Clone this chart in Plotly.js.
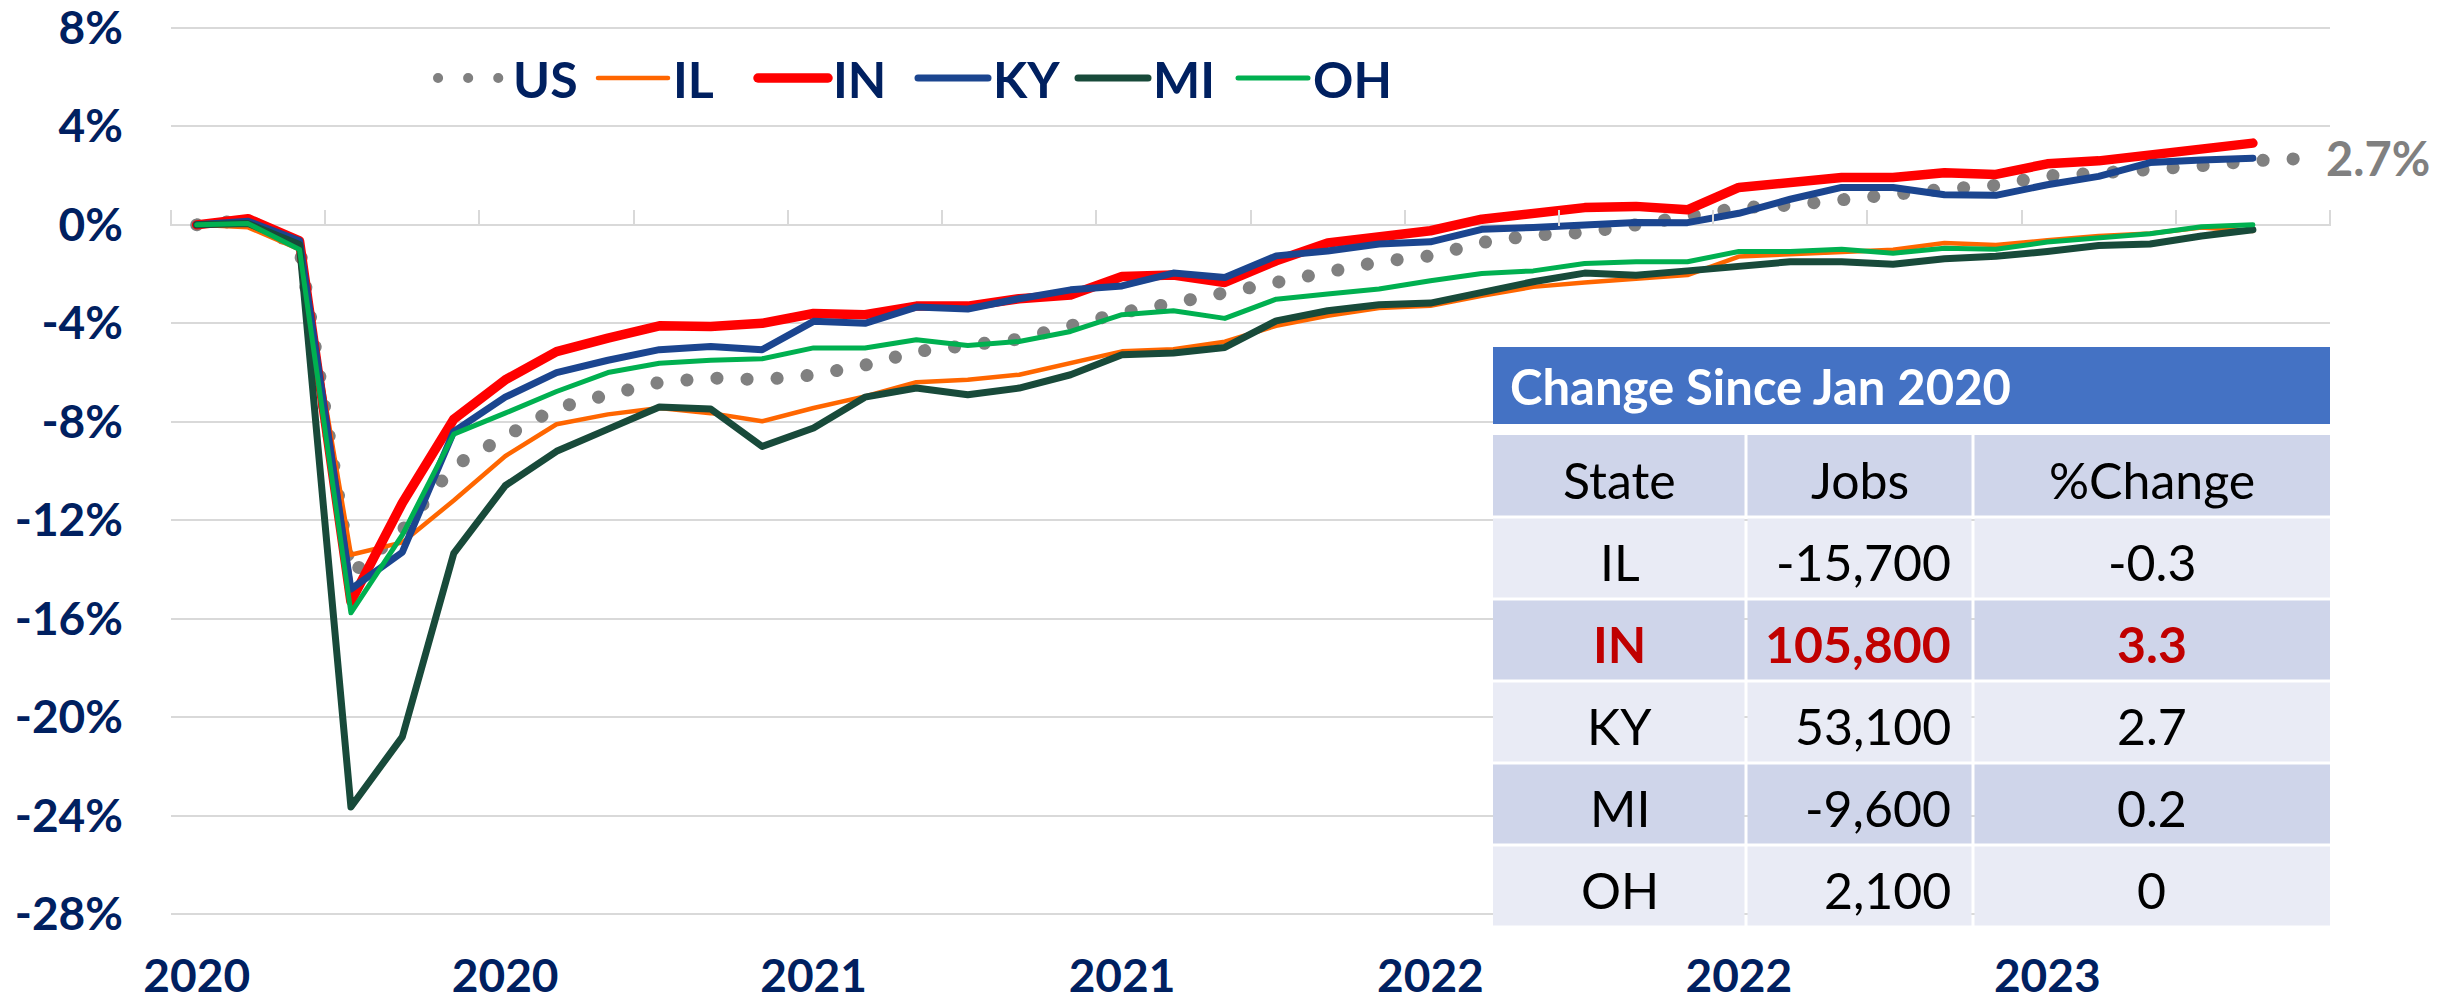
<!DOCTYPE html>
<html>
<head>
<meta charset="utf-8">
<script src="https://cdn.plot.ly/plotly-3.0.1.min.js"></script>
<style>
  html, body { margin: 0; padding: 0; background: #ffffff; }
  #chart { width: 2461px; height: 1004px; }
  path.js-line { stroke-linecap: round; stroke-linejoin: round; }
</style>
</head>
<body>
<div id="chart"></div>
<script>
// ---------- data ----------
const months = [
  'Jan 2020','Feb 2020','Mar 2020','Apr 2020','May 2020','Jun 2020','Jul 2020','Aug 2020','Sep 2020','Oct 2020','Nov 2020','Dec 2020',
  'Jan 2021','Feb 2021','Mar 2021','Apr 2021','May 2021','Jun 2021','Jul 2021','Aug 2021','Sep 2021','Oct 2021','Nov 2021','Dec 2021',
  'Jan 2022','Feb 2022','Mar 2022','Apr 2022','May 2022','Jun 2022','Jul 2022','Aug 2022','Sep 2022','Oct 2022','Nov 2022','Dec 2022',
  'Jan 2023','Feb 2023','Mar 2023','Apr 2023','May 2023','Jun 2023'
];
const xTickVals = ['Jan 2020','Jul 2020','Jan 2021','Jul 2021','Jan 2022','Jul 2022','Jan 2023'];
const xTickText = ['2020','2020','2021','2021','2022','2022','2023'];
const yTickVals = [8, 4, 0, -4, -8, -12, -16, -20, -24, -28];
const yTickText = ['8%','4%','0%','-4%','-8%','-12%','-16%','-20%','-24%','-28%'];

// % change in jobs since Jan 2020
const US = [0, 0.2, -0.9, -14.2, -12.4, -9.8, -8.6, -7.44, -6.9, -6.4, -6.22, -6.29,
  -6.1, -5.7, -5.15, -4.87, -4.64, -4.1, -3.56, -3.18, -2.77, -2.34, -1.85, -1.5,
  -1.26, -0.72, -0.42, -0.31, 0.0, 0.3, 0.69, 0.8, 1.03, 1.31, 1.45, 1.61,
  1.99, 2.1, 2.22, 2.4, 2.6, 2.7];
const IL = [0, -0.1, -1.0, -13.4, -12.9, -11.2, -9.4, -8.1, -7.7, -7.44, -7.65, -7.98,
  -7.44, -6.97, -6.39, -6.29, -6.09, -5.6, -5.14, -5.05, -4.75, -4.1, -3.69, -3.38,
  -3.29, -2.88, -2.52, -2.34, -2.17, -2.04, -1.29, -1.19, -1.1, -1.01, -0.74, -0.82,
  -0.63, -0.45, -0.35, -0.11, -0.25];
const IN = [0, 0.25, -0.65, -15.3, -11.3, -7.9, -6.3, -5.15, -4.6, -4.1, -4.13, -4.0,
  -3.6, -3.65, -3.3, -3.3, -3.0, -2.85, -2.1, -2.04, -2.34, -1.46, -0.74, -0.47,
  -0.24, 0.23, 0.46, 0.7, 0.75, 0.61, 1.52, 1.72, 1.92, 1.92, 2.12, 2.05,
  2.48, 2.6, 2.83, 3.07, 3.32];
const KY = [0, 0.15, -0.65, -14.8, -13.3, -8.4, -7.0, -6.0, -5.5, -5.07, -4.94, -5.07,
  -3.92, -4.0, -3.34, -3.42, -3.0, -2.64, -2.48, -1.96, -2.14, -1.26, -1.06, -0.78,
  -0.69, -0.18, -0.11, -0.01, 0.1, 0.09, 0.47, 1.04, 1.52, 1.52, 1.22, 1.2,
  1.63, 1.97, 2.53, 2.63, 2.71];
const MI = [0, 0.05, -0.8, -23.65, -20.8, -13.35, -10.6, -9.2, -8.3, -7.4, -7.48, -9.0,
  -8.25, -7.0, -6.63, -6.9, -6.63, -6.09, -5.28, -5.21, -4.98, -3.9, -3.49, -3.25,
  -3.18, -2.72, -2.31, -1.96, -2.05, -1.87, -1.66, -1.5, -1.5, -1.6, -1.38, -1.28,
  -1.08, -0.84, -0.78, -0.45, -0.2];
const OH = [0, 0.05, -1.0, -15.76, -12.6, -8.5, -7.65, -6.77, -6.0, -5.62, -5.5, -5.44,
  -5.0, -5.0, -4.67, -4.9, -4.74, -4.33, -3.65, -3.49, -3.8, -3.02, -2.81, -2.61,
  -2.27, -1.98, -1.87, -1.57, -1.5, -1.5, -1.08, -1.08, -0.99, -1.15, -0.95, -0.99,
  -0.7, -0.51, -0.36, -0.08, 0.0];

// table
const tableTitle = 'Change Since Jan 2020';
const tableHeader = ['State', 'Jobs', '%Change'];
const tStates = ['IL', 'IN', 'KY', 'MI', 'OH'];
const tJobs = ['-15,700', '105,800', '53,100', '-9,600', '2,100'];
const tPct = ['-0.3', '3.3', '2.7', '0.2', '0'];
const highlightState = 'IN';

// ---------- styling ----------
const FONT = 'Lato, "Open Sans", sans-serif';
const NAVY = '#002060';
const GRID = '#D9D9D9';

// geometry (px)
const W = 2461, H = 1004;
const M = {l: 171, r: 131, t: 23, b: 70};
const plotBottomPx = 919;
const PW = W - M.l - M.r, PH = H - M.t - M.b;
const px2x = x => (x - M.l) / PW;
const px2y = y => (H - M.b - y) / PH;

const series = [
  {name: 'US', y: US, color: '#808080', width: 13, dash: '0.1px,30px'},
  {name: 'IL', y: IL, color: '#FF6600', width: 4.5, dash: 'solid'},
  {name: 'IN', y: IN, color: '#FF0000', width: 9.5, dash: 'solid'},
  {name: 'KY', y: KY, color: '#1B458F', width: 7, dash: 'solid'},
  {name: 'MI', y: MI, color: '#184A3A', width: 7, dash: 'solid'},
  {name: 'OH', y: OH, color: '#00B050', width: 5, dash: 'solid'}
];

const traces = series.map(s => ({
  type: 'scatter', mode: 'lines', name: s.name,
  x: months.slice(0, s.y.length), y: s.y,
  line: {color: s.color, width: s.width, dash: s.dash},
  hoverinfo: 'skip'
}));
// empty trace so that the tick-mark axis on the zero line is drawn
traces.push({type: 'scatter', mode: 'lines', x: [], y: [], xaxis: 'x2', yaxis: 'y',
  showlegend: false, hoverinfo: 'skip'});

// ---------- table (cells drawn as shapes + annotations from the arrays) ----------
const colEdges = [1493, 1746, 1973, 2330];
const rowTop0 = 435, rowPitch = 82, cellGap = 3;
const titleBar = {top: 347, bottom: 424};
const tableRows = [tableHeader].concat(tStates.map((s, i) => [s, tJobs[i], tPct[i]]));
const colAlign = ['center', 'right', 'center'];
const jobsRightPad = 20;

const shapes = [{
  type: 'rect', xref: 'paper', yref: 'paper',
  x0: px2x(colEdges[0]), x1: px2x(colEdges[3]), y0: px2y(titleBar.bottom), y1: px2y(titleBar.top),
  fillcolor: '#4472C4', line: {width: 0}
}];
const annotations = [{
  xref: 'paper', yref: 'paper', x: px2x(1508), y: px2y((titleBar.top + titleBar.bottom) / 2),
  xanchor: 'left', yanchor: 'middle', showarrow: false,
  text: '<b>' + tableTitle + '</b>',
  font: {family: FONT, size: 49, color: '#ffffff'}
}];

tableRows.forEach((row, r) => {
  const top = rowTop0 + r * rowPitch;
  const fill = (r % 2 === 0) ? '#CFD5EA' : '#E9EBF5';
  const hl = row[0] === highlightState;
  row.forEach((val, c) => {
    const x0 = colEdges[c] + (c > 0 ? cellGap / 2 : 0);
    const x1 = colEdges[c + 1] - (c < 2 ? cellGap / 2 : 0);
    const y0 = top + (r > 0 ? cellGap / 2 : 0);
    const y1 = top + rowPitch - cellGap / 2;
    shapes.push({type: 'rect', xref: 'paper', yref: 'paper', layer: 'above',
      x0: px2x(x0), x1: px2x(x1), y0: px2y(y1), y1: px2y(y0),
      fillcolor: fill, line: {width: 0}});
    let ax, anchor;
    if (r > 0 && colAlign[c] === 'right') { ax = colEdges[c + 1] - jobsRightPad; anchor = 'right'; }
    else { ax = (colEdges[c] + colEdges[c + 1]) / 2; anchor = 'center'; }
    annotations.push({
      xref: 'paper', yref: 'paper', x: px2x(ax), y: px2y(top + rowPitch / 2),
      xanchor: anchor, yanchor: 'middle', yshift: -4, showarrow: false,
      text: hl ? '<b>' + val + '</b>' : val,
      font: {family: FONT, size: 50, color: hl ? '#C00000' : '#000000'}
    });
  });
});

// label for the latest US value
annotations.push({
  xref: 'x', yref: 'y', x: months[US.length - 1], y: US[US.length - 1],
  xanchor: 'left', yanchor: 'middle', xshift: 20, showarrow: false,
  text: '<b>' + US[US.length - 1].toFixed(1) + '%</b>',
  font: {family: FONT, size: 47, color: '#808080'}
});

const yDomLow = px2y(plotBottomPx);
const layout = {
  width: W, height: H,
  margin: M,
  paper_bgcolor: '#ffffff', plot_bgcolor: '#ffffff',
  font: {family: FONT, color: NAVY},
  showlegend: true,
  legend: {
    orientation: 'h', x: px2x(433), xanchor: 'left', y: px2y(78), yanchor: 'middle',
    font: {family: FONT, size: 50, color: NAVY, weight: 700},
    itemwidth: 70, entrywidthmode: 'pixels', entrywidth: 75,
    bgcolor: 'rgba(0,0,0,0)', traceorder: 'normal'
  },
  xaxis: {
    type: 'category', categoryorder: 'array', categoryarray: months,
    range: [-0.5, months.length - 0.5],
    tickmode: 'array', tickvals: xTickVals, ticktext: xTickText,
    showgrid: false, zeroline: false, showline: false, ticks: '',
    tickfont: {family: FONT, size: 46, color: NAVY, weight: 700},
    ticklabelstandoff: 26, ticklabeloverflow: 'allow', anchor: 'y', fixedrange: true
  },
  xaxis2: {
    overlaying: 'x', anchor: 'free', position: px2y(225.5), side: 'top',
    type: 'linear', range: [-0.5, months.length - 0.5],
    tickmode: 'linear', tick0: -0.5, dtick: 3,
    ticks: 'outside', ticklen: 16, tickwidth: 2, tickcolor: GRID,
    showticklabels: false, showgrid: false, zeroline: false, showline: false, fixedrange: true
  },
  yaxis: {
    domain: [yDomLow, 1], range: [-28.2, 8.2],
    tickmode: 'array', tickvals: yTickVals, ticktext: yTickText,
    showgrid: true, gridcolor: GRID, gridwidth: 2,
    zeroline: true, zerolinecolor: GRID, zerolinewidth: 2,
    showline: false, ticks: '',
    tickfont: {family: FONT, size: 46, color: NAVY, weight: 700},
    ticklabelstandoff: 47, ticklabeloverflow: 'allow', fixedrange: true
  },
  shapes: shapes,
  annotations: annotations
};

Plotly.newPlot('chart', traces, layout, {displayModeBar: false, staticPlot: true});
</script>
</body>
</html>
